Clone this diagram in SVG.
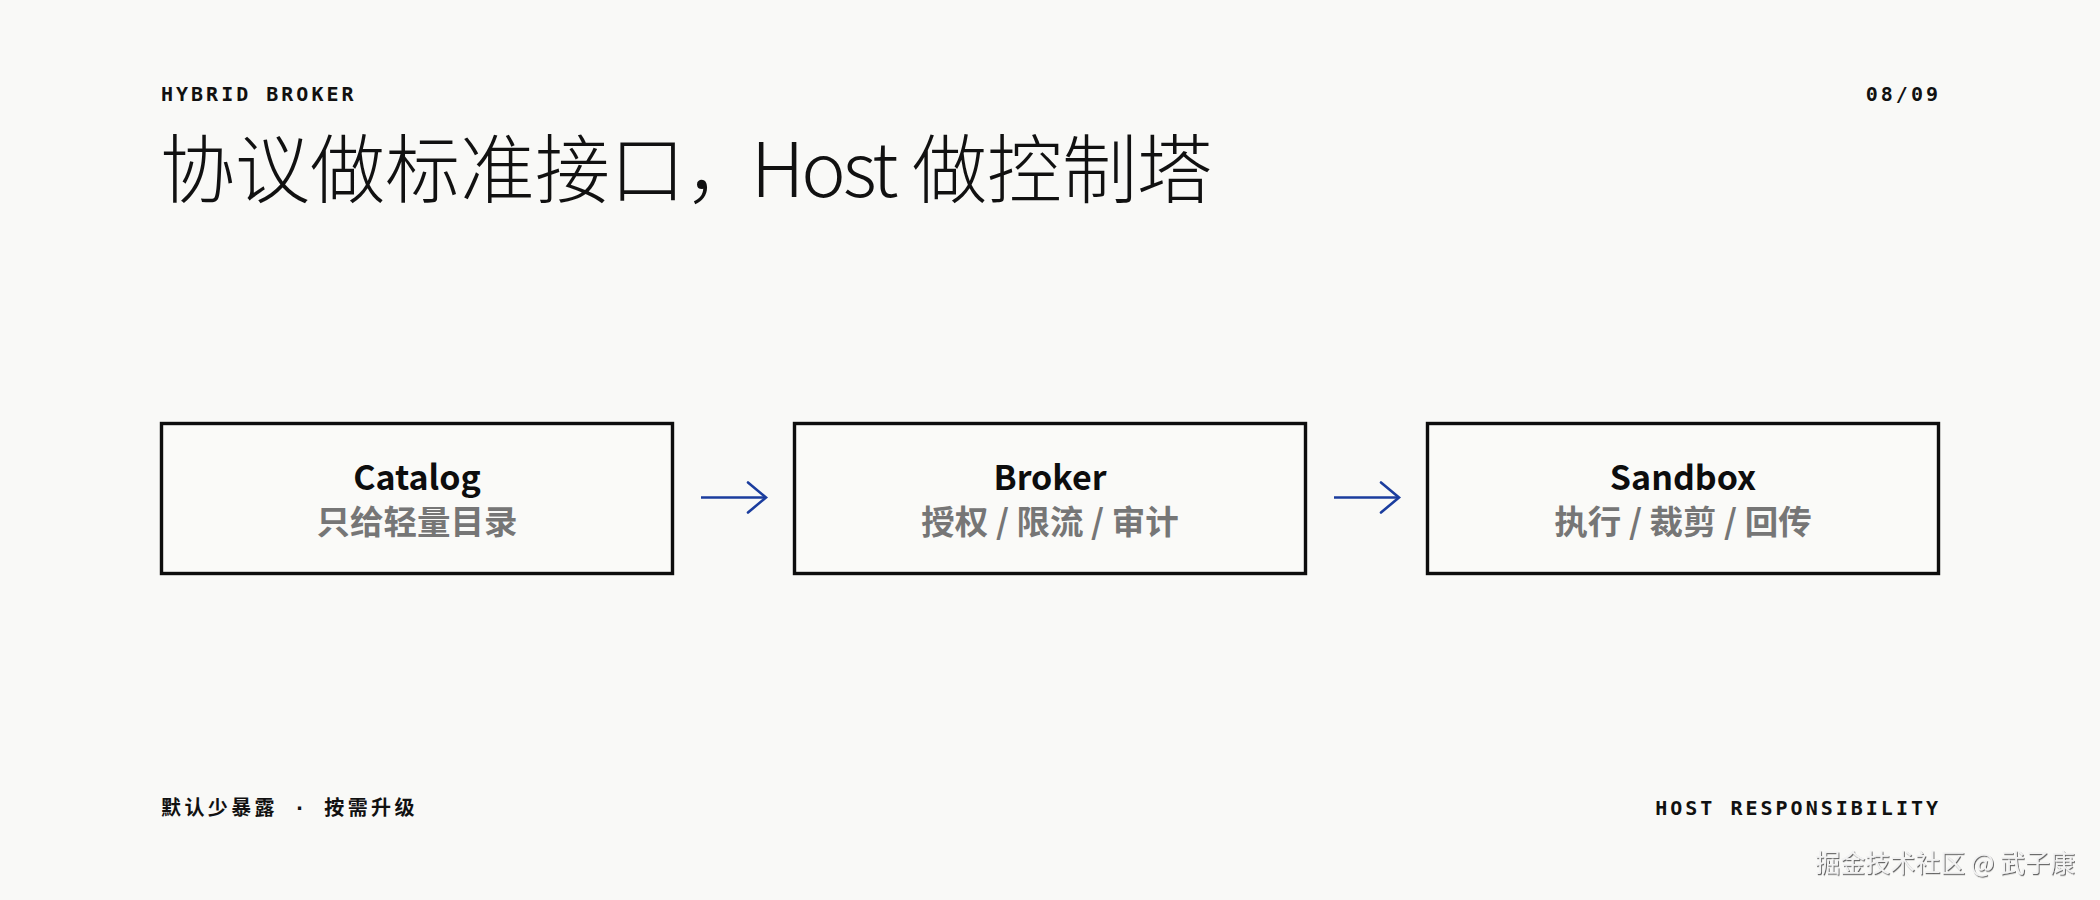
<svg xmlns="http://www.w3.org/2000/svg" width="2100" height="900" viewBox="0 0 2100 900">
  <defs>
    <style>
      .mono { font-family: "DejaVu Sans Mono", "Liberation Mono", "Noto Sans CJK SC", monospace; font-size: 20px; font-weight: 700; letter-spacing: 3px; fill: #111; }
      .foot { letter-spacing: 3.4px; }
      .title { font-family: "Noto Sans CJK SC", "Noto Sans", sans-serif; font-size: 75px; font-weight: 300; fill: #111; }
      .box { fill: #fafaf8; stroke: #0d0d0d; stroke-width: 3.4; }
      .name { font-family: "Noto Sans CJK SC", "Noto Sans", sans-serif; font-size: 34px; font-weight: 700; fill: #0d0d0d; text-anchor: middle; }
      .sub { font-family: "Noto Sans CJK SC", "Noto Sans", sans-serif; font-size: 33.5px; font-weight: 700; fill: #767676; text-anchor: middle; }
      .conn { stroke: #1b3d9e; stroke-width: 2.6; fill: none; }
      .wm { font-family: "Noto Sans CJK SC", sans-serif; font-size: 25px; fill: #f2f2f2; }
    </style>
    <marker id="arr" markerUnits="userSpaceOnUse" markerWidth="24" markerHeight="36" refX="20" refY="18" orient="auto" viewBox="0 0 24 36">
      <path d="M2,3 L20,18 L2,33" fill="none" stroke="#1b3d9e" stroke-width="2.6" stroke-linecap="round" stroke-linejoin="miter"/>
    </marker>
    <filter id="sh" x="-5%" y="-20%" width="110%" height="150%">
      <feDropShadow dx="1" dy="1.2" stdDeviation="0.7" flood-color="#555" flood-opacity="0.9"/>
    </filter>
  </defs>
  <rect width="2100" height="900" fill="#f9f9f7"/>

  <g id="header">
    <text class="mono" x="161" y="101">HYBRID BROKER</text>
    <text class="mono" x="1941" y="101" text-anchor="end">08/09</text>
    <text class="title" x="160" y="197">协议做标准接口，<tspan x="751" letter-spacing="-3">Host</tspan> <tspan x="912">做控制塔</tspan></text>
  </g>

  <g id="catalog">
    <rect class="box" x="161.5" y="423.5" width="511" height="150"/>
    <text class="name" x="417" y="490">Catalog</text>
    <text class="sub" x="417" y="534">只给轻量目录</text>
  </g>

  <g id="broker">
    <rect class="box" x="794.5" y="423.5" width="511" height="150"/>
    <text class="name" x="1050" y="490">Broker</text>
    <text class="sub" x="1050" y="534">授权 / 限流 / 审计</text>
  </g>

  <g id="sandbox">
    <rect class="box" x="1427.5" y="423.5" width="511" height="150"/>
    <text class="name" x="1683" y="490">Sandbox</text>
    <text class="sub" x="1683" y="534">执行 / 裁剪 / 回传</text>
  </g>

  <g id="connectors">
    <line class="conn" x1="701" y1="497.5" x2="766" y2="497.5" marker-end="url(#arr)"/>
    <line class="conn" x1="1334" y1="497.5" x2="1399" y2="497.5" marker-end="url(#arr)"/>
  </g>

  <g id="footer">
    <text class="mono foot" x="161" y="815">默认少暴露 · 按需升级</text>
    <text class="mono" x="1941" y="815" text-anchor="end">HOST RESPONSIBILITY</text>
  </g>

  <g id="watermark">
    <text class="wm" x="2075" y="872" text-anchor="end" filter="url(#sh)">掘金技术社区 @ 武子康</text>
  </g>
</svg>
